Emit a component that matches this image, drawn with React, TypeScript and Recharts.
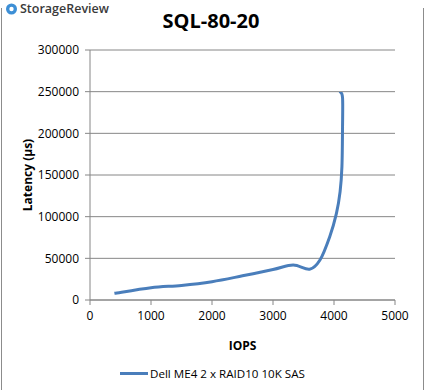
import React from 'react';
import { LineChart, Line, XAxis, YAxis, CartesianGrid, Label } from 'recharts';

const iops = [400, 1000, 1500, 2000, 2500, 3000, 3330, 3600, 3770, 3930, 4040, 4100, 4130, 4140, 4140, 4100];
const latency = [8000, 14800, 17500, 22000, 29000, 36500, 42000, 37000, 48000, 76000, 104000, 130000, 160000, 208000, 243000, 250000];
const xTicks = [0, 1000, 2000, 3000, 4000, 5000];
const yTicks = [0, 50000, 100000, 150000, 200000, 250000, 300000];
const seriesName = 'Dell ME4 2 x RAID10 10K SAS';

const data = iops.map((x, i) => ({ iops: x, latency: latency[i] }));

const FONT = '"Open Sans", "Liberation Sans", sans-serif';
const BLUE = '#4A7EBB';
const GRID = '#868686';

// Excel-style smoothing (Catmull-Rom through every point)
const excelSmooth = (context: any) => {
  let pts: number[][] = [];
  return {
    areaStart() {},
    areaEnd() {},
    lineStart() { pts = []; },
    point(x: number, y: number) { pts.push([+x, +y]); },
    lineEnd() {
      if (!pts.length) return;
      context.moveTo(pts[0][0], pts[0][1]);
      for (let i = 0; i < pts.length - 1; i++) {
        const p0 = pts[i - 1] || pts[i];
        const p1 = pts[i];
        const p2 = pts[i + 1];
        const p3 = pts[i + 2] || p2;
        context.bezierCurveTo(
          p1[0] + (p2[0] - p0[0]) / 6, p1[1] + (p2[1] - p0[1]) / 6,
          p2[0] - (p3[0] - p1[0]) / 6, p2[1] - (p3[1] - p1[1]) / 6,
          p2[0], p2[1]
        );
      }
    },
  };
};

const App = () => (
  <div style={{ position: 'absolute', left: 0, top: 0, width: 425, height: 390, background: '#fff', overflow: 'hidden' }}>
    <div style={{ position: 'absolute', left: 1, top: 8, width: 421, height: 390, borderLeft: '1px solid #8c8c8c', borderRight: '1px solid #8c8c8c' }} />
    <div style={{ position: 'absolute', left: 6, top: 0, display: 'flex', alignItems: 'center', fontFamily: FONT, fontSize: 12.5, color: '#3a3a3a', fontWeight: 600 }}>
      <svg width={11} height={12} style={{ marginRight: 3 }}>
        <circle cx={5.5} cy={6} r={5.5} fill="#3d8fd6" />
        <circle cx={5.5} cy={6} r={2.2} fill="#fff" />
      </svg>
      StorageReview
    </div>
    <div style={{ position: 'absolute', left: 0, width: 422, top: 7, textAlign: 'center', fontFamily: FONT, fontWeight: 700, fontSize: 20, color: '#000' }}>
      SQL-80-20
    </div>
    <LineChart width={425} height={390} data={data} margin={{ top: 50, right: 30, bottom: 60, left: 0 }}>
      <CartesianGrid horizontal vertical={false} stroke={GRID} />
      <XAxis
        dataKey="iops"
        type="number"
        domain={[0, 5000]}
        ticks={xTicks}
        interval={0}
        height={30}
        stroke={GRID}
        tickSize={5}
        tickMargin={6}
        tick={{ fill: '#000', fontSize: 12, fontFamily: FONT }}
      >
        <Label value="IOPS" position="insideBottom" offset={-20} style={{ fontFamily: FONT, fontSize: 12, fontWeight: 700, fill: '#000' }} />
      </XAxis>
      <YAxis
        type="number"
        domain={[0, 300000]}
        ticks={yTicks}
        interval={0}
        width={90}
        stroke={GRID}
        tickSize={5}
        tickMargin={6}
        tick={{ fill: '#000', fontSize: 12, fontFamily: FONT }}
      >
        <Label value="Latency (µs)" angle={-90} position="insideLeft" offset={28} style={{ textAnchor: 'middle', fontFamily: FONT, fontSize: 12, fontWeight: 700, fill: '#000' }} />
      </YAxis>
      <Line
        dataKey="latency"
        name={seriesName}
        type={excelSmooth as any}
        stroke={BLUE}
        strokeWidth={3}
        dot={false}
        isAnimationActive={false}
      />
    </LineChart>
    <div style={{ position: 'absolute', left: 120, top: 366, display: 'flex', alignItems: 'center', fontFamily: FONT, fontSize: 11.6, color: '#000' }}>
      <div style={{ width: 28, height: 3, background: BLUE, marginRight: 2 }} />
      <span>{seriesName}</span>
    </div>
  </div>
);

export default App;
